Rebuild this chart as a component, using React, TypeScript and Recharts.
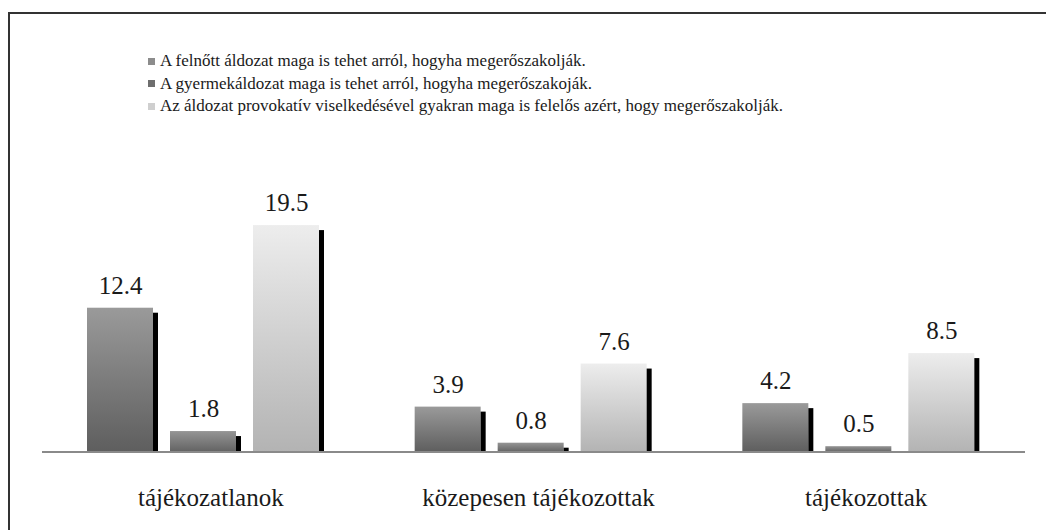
import { type FC } from "react";
import { BarChart, Bar, XAxis, YAxis, LabelList } from "recharts";

const categories = ["tájékozatlanok", "közepesen tájékozottak", "tájékozottak"];
const felnottValues = [12.4, 3.9, 4.2];
const gyermekValues = [1.8, 0.8, 0.5];
const provokativValues = [19.5, 7.6, 8.5];

const seriesNames = [
  "A felnőtt áldozat maga is tehet arról, hogyha megerőszakolják.",
  "A gyermekáldozat maga is tehet arról, hogyha megerőszakoják.",
  "Az áldozat provokatív viselkedésével gyakran maga is felelős azért, hogy megerőszakolják.",
];

const data = categories.map((name, i) => ({
  name,
  felnott: felnottValues[i],
  gyermek: gyermekValues[i],
  provokativ: provokativValues[i],
}));

const FONT = "'Liberation Serif', 'DejaVu Serif', serif";
const SHADOW = 5;

// gray gradient bar with a thin black "shadow" strip on its right
const makeShape = (gradId: string) => (props: any) => {
  const { x, y, width, height } = props;
  if (!height || height <= 0) return <g />;
  const w = width - SHADOW;
  const sh = Math.max(height - SHADOW, 1);
  return (
    <g>
      <rect x={x} y={y} width={w} height={height} fill={`url(#${gradId})`} />
      <rect x={x + w} y={y + height - sh} width={SHADOW} height={sh} fill="#000" />
    </g>
  );
};

const legendColors = ["#8c8c8c", "#6e6e6e", "#cfcfcf"];

// legend drawn outside the chart so it does not shrink the plot area
const LegendBox: FC = () => (
  <div
    style={{
      position: "absolute",
      left: 148,
      top: 50,
      fontFamily: FONT,
      fontSize: 17,
      color: "#1a1a1a",
      lineHeight: "22.5px",
      whiteSpace: "nowrap",
    }}
  >
    {seriesNames.map((n, i) => (
      <div key={i} style={{ display: "flex", alignItems: "center" }}>
        <span
          style={{
            display: "inline-block",
            width: 7,
            height: 7,
            background: legendColors[i],
            marginRight: 5,
          }}
        />
        {n}
      </div>
    ))}
  </div>
);

const App: FC = () => (
  <div
    style={{
      position: "absolute",
      left: 0,
      top: 0,
      width: 1046,
      height: 530,
      background: "#fff",
      overflow: "hidden",
    }}
  >
    {/* frame: only top and left edges are visible */}
    <div
      style={{
        position: "absolute",
        left: 8,
        top: 12,
        width: 1100,
        height: 600,
        borderTop: "2px solid #333",
        borderLeft: "2px solid #333",
      }}
    />
    <LegendBox />
    <BarChart
      width={1046}
      height={530}
      data={data}
      margin={{ top: 196, right: 21, left: 42, bottom: 0 }}
      barSize={71}
      barGap={12}
      style={{ position: "absolute", left: 0, top: 0 }}
    >
      <defs>
        <linearGradient id="g1" x1="0" y1="0" x2="0" y2="1">
          <stop offset="0%" stopColor="#9a9a9a" />
          <stop offset="100%" stopColor="#5e5e5e" />
        </linearGradient>
        <linearGradient id="g2" x1="0" y1="0" x2="0" y2="1">
          <stop offset="0%" stopColor="#959595" />
          <stop offset="100%" stopColor="#626262" />
        </linearGradient>
        <linearGradient id="g3" x1="0" y1="0" x2="0" y2="1">
          <stop offset="0%" stopColor="#ededed" />
          <stop offset="100%" stopColor="#b3b3b3" />
        </linearGradient>
      </defs>
      <XAxis
        dataKey="name"
        height={78}
        tickLine={false}
        axisLine={{ stroke: "#8a8a8a", strokeWidth: 2 }}
        tick={{ fill: "#1a1a1a", fontSize: 25, fontFamily: FONT, dx: 5 }}
        tickMargin={30}
        interval={0}
      />
      <YAxis hide domain={[0, 22]} />
      <Bar dataKey="felnott" name={seriesNames[0]} shape={makeShape("g1")} isAnimationActive={false}>
        <LabelList dataKey="felnott" position="top" offset={14} dx={-2} fill="#1a1a1a" fontSize={25} fontFamily={FONT} />
      </Bar>
      <Bar dataKey="gyermek" name={seriesNames[1]} shape={makeShape("g2")} isAnimationActive={false}>
        <LabelList dataKey="gyermek" position="top" offset={14} dx={-2} fill="#1a1a1a" fontSize={25} fontFamily={FONT} />
      </Bar>
      <Bar dataKey="provokativ" name={seriesNames[2]} shape={makeShape("g3")} isAnimationActive={false}>
        <LabelList dataKey="provokativ" position="top" offset={14} dx={-2} fill="#1a1a1a" fontSize={25} fontFamily={FONT} />
      </Bar>
    </BarChart>
  </div>
);

export default App;
